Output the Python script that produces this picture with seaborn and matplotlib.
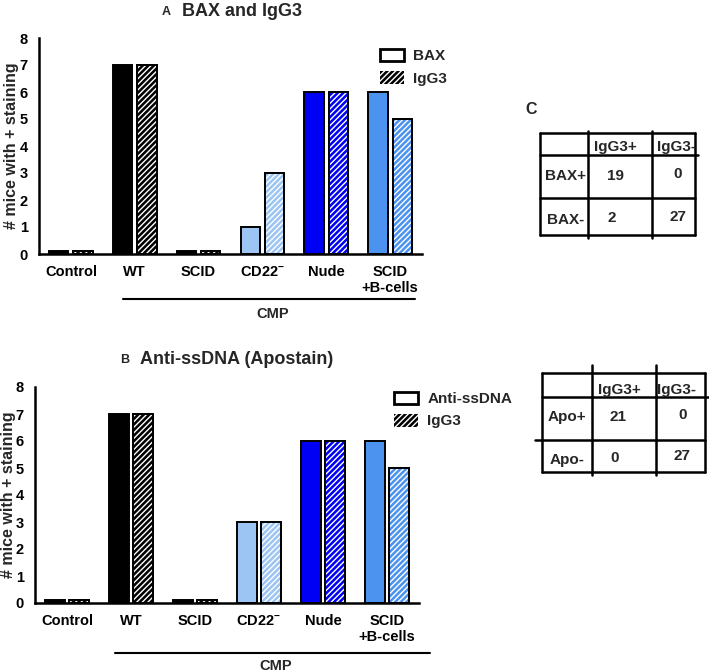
# BAX / IgG3 and anti-ssDNA staining in CMP mice

import pandas as pd
import matplotlib
matplotlib.use("Agg")
import matplotlib.pyplot as plt
from matplotlib.patches import Patch, Rectangle
from matplotlib.lines import Line2D
import seaborn as sns

# ==========================
# Data
# ==========================

groups = ["Control", "WT", "SCID", "CD22$^{-}$", "Nude", "SCID\n+B-cells"]
bax_counts = [0.1, 7, 0.1, 1, 6, 6]
igg3_counts_a = [0.1, 7, 0.1, 3, 6, 5]
ssdna_counts = [0.1, 7, 0.1, 3, 6, 6]
igg3_counts_b = [0.1, 7, 0.1, 3, 6, 5]
group_colors = ["#000000", "#000000", "#000000", "#9cc5f4", "#0000f5", "#4b93ef"]

table_c_cols = ["IgG3+", "IgG3-"]
table_c_rows = ["BAX+", "BAX-"]
table_c_vals = [["19", "0"], ["2", "27"]]
table_d_rows = ["Apo+", "Apo-"]
table_d_vals = [["21", "0"], ["0", "27"]]

# ==========================
# Style
# ==========================

sns.set_style("white")
plt.rcParams["font.family"] = ["Liberation Sans", "DejaVu Sans"]
plt.rcParams["font.weight"] = "bold"
plt.rcParams["mathtext.fontset"] = "custom"
plt.rcParams["mathtext.rm"] = "Liberation Sans:bold"
plt.rcParams["mathtext.default"] = "rm"
plt.rcParams["hatch.linewidth"] = 1.0

W, H = 709, 672
fig = plt.figure(figsize=(W / 100, H / 100), dpi=100)


def fx(px):
    return px / W


def fy(py):
    return 1 - py / H


def draw_panel(ax, first_name, first_vals, second_vals, label_px):
    df = pd.DataFrame({
        "group": groups * 2,
        "count": first_vals + second_vals,
        "stain": [first_name] * len(groups) + ["IgG3"] * len(groups),
    })
    sns.barplot(data=df, x="group", y="count", hue="stain", order=groups,
                palette=["#000000", "#000000"], width=0.76, gap=0.2,
                edgecolor="black", linewidth=1.4, legend=False, ax=ax)
    for bar, col in zip(ax.containers[0], group_colors):
        bar.set_facecolor(col)
    for bar, col in zip(ax.containers[1], group_colors):
        bar.set_facecolor(col)
        x, y = bar.get_xy()
        w, h = bar.get_width(), bar.get_height()
        ax.add_patch(Rectangle((x, y), w, h, facecolor="none", edgecolor="white",
                               hatch="//////", linewidth=0, zorder=3))
        ax.add_patch(Rectangle((x, y), w, h, facecolor="none", edgecolor="black",
                               linewidth=1.4, zorder=4))
    ax.set_xlim(-0.5, 5.5)
    ax.set_ylim(0, 8)
    ax.set_yticks(range(0, 9))
    ax.set_xlabel("")
    ax.set_ylabel("# mice with + staining", fontsize=11.5, fontweight="bold")
    ax.yaxis.label.set_verticalalignment("center")
    x0 = ax.get_position().x0 * W
    ax.yaxis.set_label_coords((label_px - x0) / (ax.get_position().width * W), 0.5)
    sns.despine(ax=ax)
    for s in ["left", "bottom"]:
        ax.spines[s].set_linewidth(1.8)
        ax.spines[s].set_color("black")
    ax.tick_params(axis="both", direction="out", length=5, width=1.8,
                   labelsize=10.5, colors="black", pad=3)
    for lab in ax.get_xticklabels() + ax.get_yticklabels():
        lab.set_fontweight("bold")
    handles = [
        Patch(facecolor="white", edgecolor="black", linewidth=2, label=first_name),
        Patch(facecolor="black", edgecolor="white", hatch="//////", linewidth=0, label="IgG3"),
    ]
    return handles


def draw_table(x0, xr, ys, col_x, ext_top, row_ext, txt):
    lines = []
    lines.append(((x0, xr), (ys[0], ys[0])))
    lines.append(((row_ext[0][0], row_ext[0][1]), (ys[1], ys[1])))
    lines.append(((row_ext[1][0], row_ext[1][1]), (ys[2], ys[2])))
    lines.append(((x0, xr), (ys[3], ys[3])))
    lines.append(((x0, x0), (ys[0], ys[3])))
    lines.append(((xr, xr), (ys[0], ys[3])))
    for cx in col_x:
        lines.append(((cx, cx), (ext_top, ys[3] + 3)))
    for (xa, xb), (ya, yb) in lines:
        fig.add_artist(Line2D([fx(xa), fx(xb)], [fy(ya), fy(yb)], color="black",
                              linewidth=1.8, transform=fig.transFigure))
    for (tx, ty, s) in txt:
        fig.text(fx(tx), fy(ty), s, ha="center", va="center", fontsize=11, fontweight="bold")


# ==========================
# Panel A
# ==========================

ax_a = fig.add_axes([fx(39), fy(254), fx(422 - 39), (254 - 38) / H])
h_a = draw_panel(ax_a, "BAX", bax_counts, igg3_counts_a, 12)
ax_a.legend(handles=h_a, loc="upper left", bbox_to_anchor=(fx(372), fy(41)),
            bbox_transform=fig.transFigure, frameon=False, fontsize=11,
            handlelength=1.6, handleheight=0.9, handletextpad=0.6, labelspacing=0.5,
            borderpad=0)
fig.text(fx(166), fy(12), "A", fontsize=9, fontweight="bold", ha="center", va="center")
fig.text(fx(242), fy(11), "BAX and IgG3", fontsize=13, fontweight="bold",
         ha="center", va="center")
fig.add_artist(Line2D([fx(123), fx(415)], [fy(299), fy(299)], color="black",
                      linewidth=1.5, transform=fig.transFigure))
fig.text(fx(273), fy(314), "CMP", fontsize=10.5, fontweight="bold", ha="center", va="center")

# ==========================
# Panel B
# ==========================

ax_b = fig.add_axes([fx(35), fy(603), fx(419 - 35), (603 - 387) / H])
h_b = draw_panel(ax_b, "Anti-ssDNA", ssdna_counts, igg3_counts_b, 9)
ax_b.legend(handles=h_b, loc="upper left", bbox_to_anchor=(fx(386), fy(384)),
            bbox_transform=fig.transFigure, frameon=False, fontsize=11,
            handlelength=1.6, handleheight=0.9, handletextpad=0.6, labelspacing=0.5,
            borderpad=0)
fig.text(fx(125), fy(360), "B", fontsize=9, fontweight="bold", ha="center", va="center")
fig.text(fx(237), fy(359), "Anti-ssDNA (Apostain)", fontsize=13, fontweight="bold",
         ha="center", va="center")
fig.add_artist(Line2D([fx(115), fx(430)], [fy(653), fy(653)], color="black",
                      linewidth=1.5, transform=fig.transFigure))
fig.text(fx(276), fy(666), "CMP", fontsize=10.5, fontweight="bold", ha="center", va="center")

# ==========================
# Tables
# ==========================

fig.text(fx(531), fy(110), "C", fontsize=11.5, fontweight="bold", ha="center", va="center")

txt_c = [(615, 147, table_c_cols[0]), (677, 147, table_c_cols[1]),
         (566, 176, table_c_rows[0]), (615, 176, table_c_vals[0][0]), (678, 174, table_c_vals[0][1]),
         (566, 220, table_c_rows[1]), (612, 218, table_c_vals[1][0]), (678, 217, table_c_vals[1][1])]
draw_table(540, 695, [133, 155, 198, 235], [588, 652], 131,
           [(540, 698), (540, 695)], txt_c)

txt_d = [(619, 390, table_c_cols[0]), (677, 390, table_c_cols[1]),
         (567, 417, table_d_rows[0]), (618, 417, table_d_vals[0][0]), (683, 415, table_d_vals[0][1]),
         (567, 460, table_d_rows[1]), (615, 458, table_d_vals[1][0]), (682, 456, table_d_vals[1][1])]
draw_table(542, 705, [373, 397, 440, 472], [592, 656], 365,
           [(542, 709), (535, 705)], txt_d)

fig.savefig("out.png", dpi=100)
